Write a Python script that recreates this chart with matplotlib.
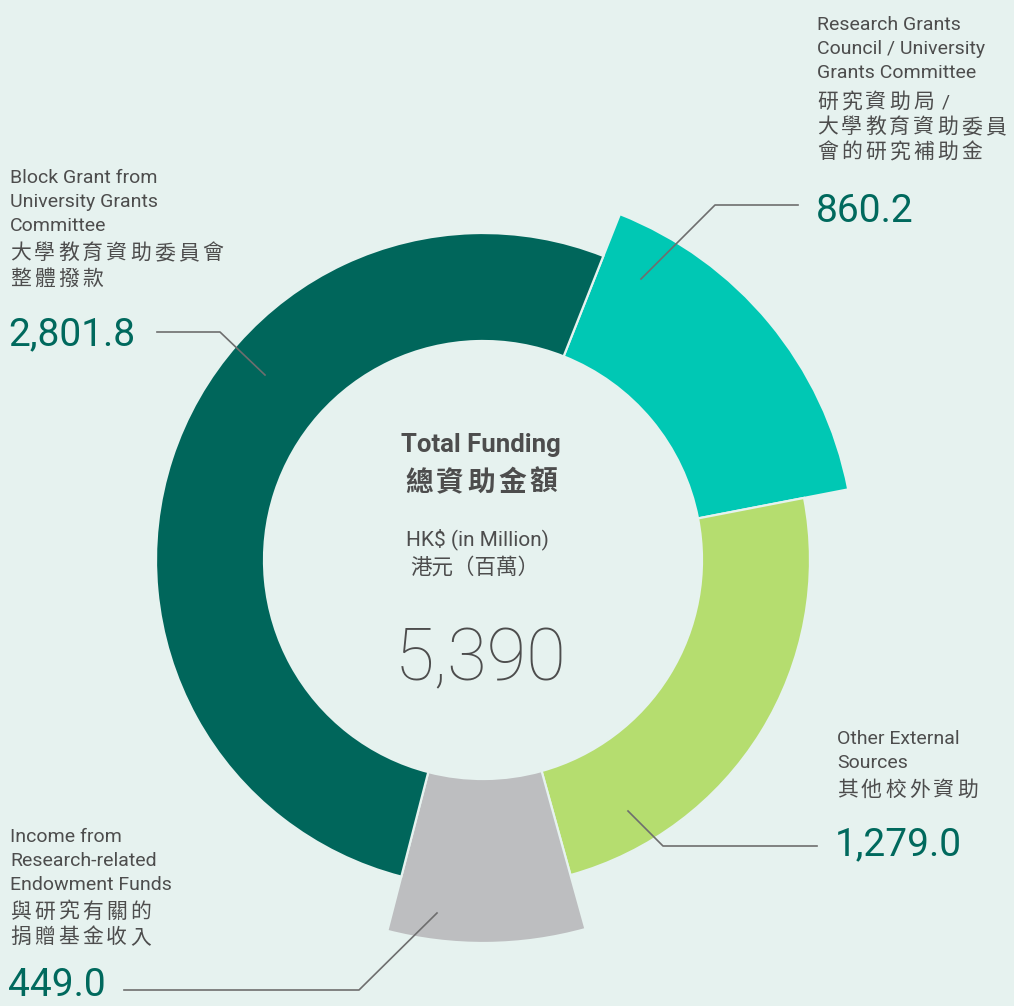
import numpy as np
import matplotlib
matplotlib.use("Agg")
import matplotlib.pyplot as plt
from matplotlib.patches import Wedge

# data (HK$ million), drawn clockwise starting from the RGC slice
names = ["RGC/UGC", "Other External", "Endowment", "Block Grant"]
values = [860.2, 1279.0, 449.0, 2801.8]
value_labels = ["860.2", "1,279.0", "449.0", "2,801.8"]
total_label = "5,390"
colors = ["#00c8b4", "#b5dd6f", "#bdbec0", "#00665b"]
outer_r = [372, 327, 383, 327]

bg = "#e6f2ef"
txt = "#4d4d4d"
numc = "#00695d"
linec = "#6e6e6e"

plt.rcParams['font.family'] = ['Roboto', 'Noto Sans CJK TC', 'DejaVu Sans']
cjk = ['Noto Sans CJK TC', 'DejaVu Sans']

fig = plt.figure(figsize=(10.14, 10.06), dpi=100, facecolor=bg)
ax = fig.add_axes([0, 0, 1, 1])
ax.set_xlim(0, 1014)
ax.set_ylim(1006, 0)
ax.set_facecolor(bg)
ax.axis('off')

# donut with different outer radii
cx, cy = 483, 560
inner_r = 219
start = 68.4
angles = np.array(values) / sum(values) * 360
hi = start - np.concatenate([[0], np.cumsum(angles)[:-1]])
lo = hi - angles
for h, l, r, c in zip(hi, lo, outer_r, colors):
    # y axis is inverted, so flip angles
    ax.add_patch(Wedge((cx, cy), r, -h, -l, width=r - inner_r,
                       facecolor=c, edgecolor=bg, linewidth=1.6))


def spaced(x, y, s, pitch=24, size=15, **kw):
    for i, ch in enumerate(s):
        ax.text(x + i * pitch, y, ch, fontsize=size, color=txt, family=cjk,
                va='center', ha='left', **kw)


def eng(x, y, lines, step=24):
    for i, s in enumerate(lines):
        ax.text(x, y + i * step, s, fontsize=14, color=txt, va='baseline', ha='left')


# Block grant
eng(10, 183, ["Block Grant from", "University Grants", "Committee"])
spaced(10, 253, "大學教育資助委員會")
spaced(10, 279, "整體撥款")
ax.text(8, 345, value_labels[3], fontsize=28, color=numc, va='baseline')
ax.plot([157, 220, 265], [332, 332, 375], color=linec, lw=1.2)

# RGC
eng(817, 30, ["Research Grants", "Council / University", "Grants Committee"])
spaced(817, 102, "研究資助局")
ax.text(942, 102, "/", fontsize=14, color=txt, va='center')
spaced(817, 127, "大學教育資助委員")
spaced(817, 152, "會的研究補助金")
ax.text(816, 222, value_labels[0], fontsize=28, color=numc, va='baseline')
ax.plot([798, 715, 641], [205, 205, 279], color=linec, lw=1.2)

# Other external
eng(837, 744, ["Other External", "Sources"])
spaced(837, 790, "其他校外資助")
ax.text(835, 855, value_labels[1], fontsize=28, color=numc, va='baseline')
ax.plot([628, 663, 817], [811, 846, 846], color=linec, lw=1.2)

# Endowment
eng(10, 842, ["Income from", "Research-related", "Endowment Funds"])
spaced(10, 912, "與研究有關的")
spaced(10, 937, "捐贈基金收入")
ax.text(8, 1004, value_labels[2], fontsize=28, color=numc, va='bottom')
ax.plot([124, 359, 437], [990, 990, 913], color=linec, lw=1.2)

# centre text
ax.text(481, 452, "Total Funding", fontsize=18.5, fontweight='bold', color=txt,
        ha='center', va='baseline')
for i, ch in enumerate("總資助金額"):
    ax.text(419 + i * 31, 483, ch, fontsize=20, fontweight='bold', color=txt,
            family=cjk, ha='center', va='center')
ax.text(477, 545, "HK$ (in Million)", fontsize=15, color=txt, ha='center', va='baseline')
ax.text(475, 568, "港元（百萬）", fontsize=15.5, color=txt, family=cjk, ha='center', va='center')
ax.text(481, 680, total_label, fontsize=52, fontweight='light', color=txt,
        ha='center', va='baseline')

fig.savefig("out.png", dpi=100, facecolor=bg)
